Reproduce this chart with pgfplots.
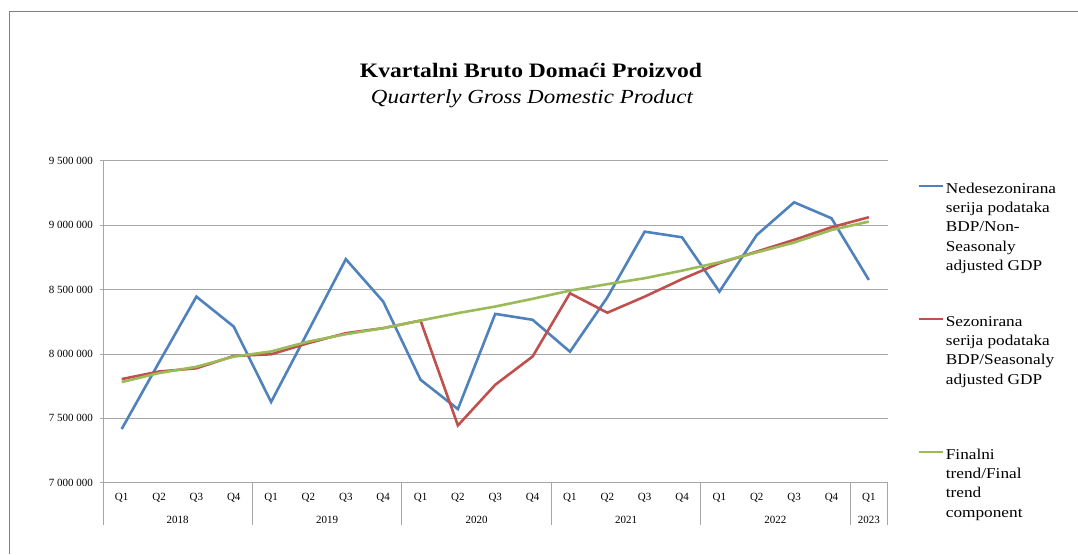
\documentclass[border=0pt]{standalone}
\usepackage{fontspec}
\setmainfont{Liberation Serif}
\newfontfamily\cam{Liberation Serif}[FakeStretch=1.15]
\usepackage{pgfplots}
\pgfplotsset{compat=1.18}
\definecolor{xblue}{HTML}{4F81BD}
\definecolor{xred}{HTML}{C0504D}
\definecolor{xgreen}{HTML}{9BBB59}
\definecolor{gridc}{HTML}{A6A6A6}
\pgfplotstableread{
x nsa sa trend
0  7417000 7805000 7782000
1  7935000 7864000 7852000
2  8446000 7889000 7901000
3  8213000 7985000 7980000
4  7627000 7998000 8020000
5  8182000 8085000 8097000
6  8737000 8162000 8154000
7  8408000 8201000 8201000
8  7800000 8260000 8260000
9  7572000 7445000 8318000
10 8312000 7761000 8369000
11 8266000 7981000 8429000
12 8018000 8472000 8493000
13 8440000 8321000 8543000
14 8951000 8446000 8589000
15 8907000 8582000 8648000
16 8485000 8706000 8713000
17 8925000 8796000 8790000
18 9179000 8887000 8866000
19 9055000 8985000 8964000
20 8576000 9063000 9029000
}\gdpdata
\begin{document}
\begin{tikzpicture}
\useasboundingbox (0,0) rectangle (1078pt,554pt);
\draw[color=black!50, line width=1pt] (9pt,0pt) -- (9pt,542pt) -- (1078pt,542pt);
\node[anchor=base, font=\cam\bfseries\fontsize{20.5}{24}\selectfont] at (531pt,476.3pt) {Kvartalni Bruto Domaći Proizvod};
\node[anchor=base, font=\cam\itshape\fontsize{20}{24}\selectfont] at (532pt,450pt) {Quarterly Gross Domestic Product};
\begin{axis}[
  at={(103pt,71.3pt)}, anchor=south west,
  width=784.5pt, height=321.7pt, scale only axis,
  xmin=-0.5, xmax=20.5, ymin=7000000, ymax=9500000,
  clip=false,
  scaled y ticks=false,
  axis x line*=bottom, axis y line*=left,
  axis line style={draw=gridc, line width=1pt, -},
  ymajorgrids, grid style={draw=gridc, line width=1pt},
  tick align=outside, major tick length=3.5pt,
  ytick={7000000,7500000,8000000,8500000,9000000,9500000},
  yticklabels={7 000 000,7 500 000,8 000 000,8 500 000,9 000 000,9 500 000},
  ytick style={draw=gridc, line width=1pt},
  yticklabel style={font=\fontsize{11}{13}\selectfont, xshift=-3pt},
  xtick={0,...,20},
  xticklabels={Q1,Q2,Q3,Q4,Q1,Q2,Q3,Q4,Q1,Q2,Q3,Q4,Q1,Q2,Q3,Q4,Q1,Q2,Q3,Q4,Q1},
  xtick style={draw=none},
  xticklabel style={font=\fontsize{11}{13}\selectfont, yshift=-3pt},
  legend cell align=left,
  legend style={at={(1.0377,0.949)}, anchor=north west, draw=none, fill=none,
    inner sep=0pt, row sep=114pt, font=\cam\fontsize{15}{19.3}\selectfont},
  legend image code/.code={\draw[#1, line width=2.6pt] (0pt,1pt) -- (24pt,1pt);},
]
\addplot[xblue, line width=2.6pt, no markers] table[x=x, y=nsa] {\gdpdata};
\addlegendentry{\begin{tabular}[t]{@{}l@{}}Nedesezonirana\\serija podataka\\BDP/Non-\\Seasonaly\\adjusted GDP\end{tabular}}
\addplot[xred, line width=2.6pt, no markers] table[x=x, y=sa] {\gdpdata};
\addlegendentry{\begin{tabular}[t]{@{}l@{}}Sezonirana\\serija podataka\\BDP/Seasonaly\\adjusted GDP\end{tabular}}
\addplot[xgreen, line width=2.6pt, no markers] table[x=x, y=trend] {\gdpdata};
\addlegendentry{\begin{tabular}[t]{@{}l@{}}Finalni\\trend/Final\\trend\\component\end{tabular}}
\foreach \xp in {-0.5,3.5,7.5,11.5,15.5,19.5,20.5}{
  \edef\tmp{\noexpand\draw[gridc, line width=1pt] (axis cs:\xp,7000000) -- ++(0pt,-42pt);}
  \tmp
}
\foreach \xp/\yr in {1.5/2018,5.5/2019,9.5/2020,13.5/2021,17.5/2022,20/2023}{
  \edef\tmp{\noexpand\node[anchor=base, font=\noexpand\fontsize{11}{13}\noexpand\selectfont] at (axis cs:\xp,7000000) [yshift=-40.8pt] {\yr};}
  \tmp
}
\end{axis}
\end{tikzpicture}
\end{document}
